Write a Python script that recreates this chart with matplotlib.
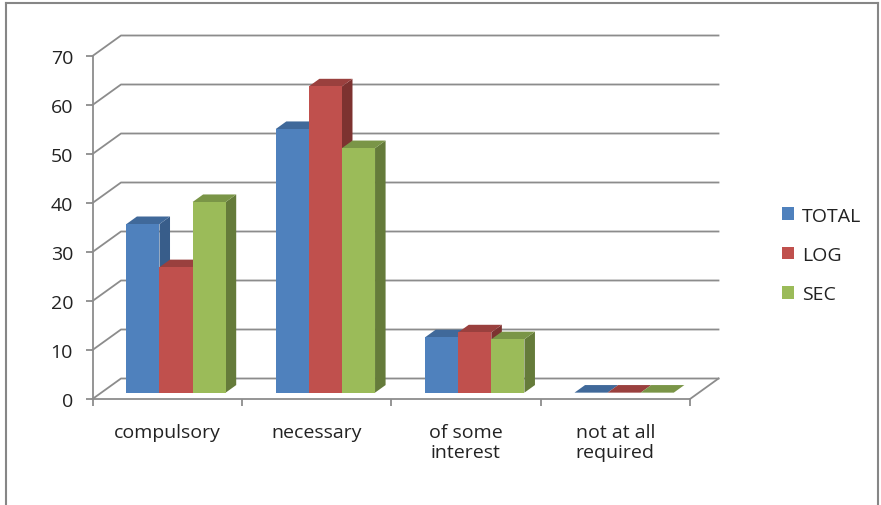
import matplotlib
matplotlib.use('Agg')
import matplotlib.pyplot as plt
from matplotlib.lines import Line2D
from matplotlib.patches import Patch, Polygon

categories = ['compulsory', 'necessary', 'of some\ninterest', 'not at all\nrequired']
series_names = ['TOTAL', 'LOG', 'SEC']
total = [34.4, 53.8, 11.3, 0]
log = [25.6, 62.5, 12.3, 0]
sec = [38.9, 49.9, 10.9, 0]
y_ticks = [0, 10, 20, 30, 40, 50, 60, 70]

front_colors = ['#4F81BD', '#C0504D', '#9BBB59']
top_colors = ['#40699A', '#9A403E', '#7A9547']
side_colors = ['#385D8A', '#7D3230', '#657B3A']
line_color = '#8C8C8C'

W, H = 881, 506
plt.rcParams['font.family'] = ['Open Sans', 'DejaVu Sans']

fig = plt.figure(figsize=(W / 100, H / 100), dpi=100)
ax = fig.add_axes([92.5 / W, (H - 400) / H, 597.5 / W, 343 / H])
ax.set_xlim(0, 4)
ax.set_ylim(0, 70)

# oblique projection: how far the back wall sits from the front plane
depth_x = 28.5 / 149.4
depth_y = 20.5 / 4.9

# back wall gridlines and the left wall diagonals
for t in y_ticks:
    ax.plot([0, depth_x, 4 + depth_x], [t, t + depth_y, t + depth_y],
            color=line_color, lw=1.3, clip_on=False, zorder=1)
ax.plot([4, 4 + depth_x], [0, depth_y], color=line_color, lw=1.3, clip_on=False, zorder=1)

bar_w = 33.1 / 149.4
z0, z1 = 0.31, 0.68
for s, values in enumerate([total, log, sec]):
    for c, v in enumerate(values):
        left = c + 0.5 - 1.5 * bar_w + s * bar_w + z0 * depth_x
        right = left + bar_w
        base = z0 * depth_y
        dx = (z1 - z0) * depth_x
        dy = (z1 - z0) * depth_y
        zo = 3 + c * 3 + s
        ax.add_patch(Polygon([(right, base), (right + dx, base + dy), (right + dx, base + dy + v), (right, base + v)],
                             facecolor=side_colors[s], edgecolor='none', zorder=zo, clip_on=False))
        ax.add_patch(Polygon([(left, base + v), (right, base + v), (right + dx, base + v + dy), (left + dx, base + v + dy)],
                             facecolor=top_colors[s], edgecolor='none', zorder=zo, clip_on=False))
        if v > 0:
            ax.bar(left, v, bar_w, bottom=base, align='edge', color=front_colors[s], zorder=zo, clip_on=False)

for name in ['top', 'right']:
    ax.spines[name].set_visible(False)
for name in ['left', 'bottom']:
    ax.spines[name].set_color(line_color)
    ax.spines[name].set_linewidth(1.3)
ax.patch.set_alpha(0)

ax.set_yticks(y_ticks)
ax.set_xticks(range(5))
ax.set_xticklabels([])
ax.set_xticks([c + 0.5 for c in range(4)], labels=categories, minor=True)
ax.tick_params(axis='both', which='major', color=line_color, width=1.3, length=5)
ax.tick_params(axis='y', labelsize=14, labelcolor='#222222', pad=9)
ax.tick_params(axis='x', which='minor', length=0, labelsize=14, labelcolor='#222222', pad=17)
for lab in ax.get_xticklabels(minor=True):
    lab.set_linespacing(1.15)

handles = [Patch(facecolor=col, edgecolor='none', label=name) for col, name in zip(front_colors, series_names)]
fig.legend(handles=handles, loc='center left', bbox_to_anchor=(764 / W, (H - 256) / H), frameon=False,
           fontsize=14, labelcolor='#222222', handlelength=0.62, handleheight=0.62,
           handletextpad=0.45, labelspacing=1.1)

# chart area border, open at the bottom edge
for xs, ys in [([6, 6], [0, H - 4]), ([6, 878], [H - 4, H - 4]), ([878, 878], [H - 4, 0])]:
    fig.add_artist(Line2D([x / W for x in xs], [y / H for y in ys], color='#868686', lw=1.5))

fig.savefig('out.png', dpi=100)
